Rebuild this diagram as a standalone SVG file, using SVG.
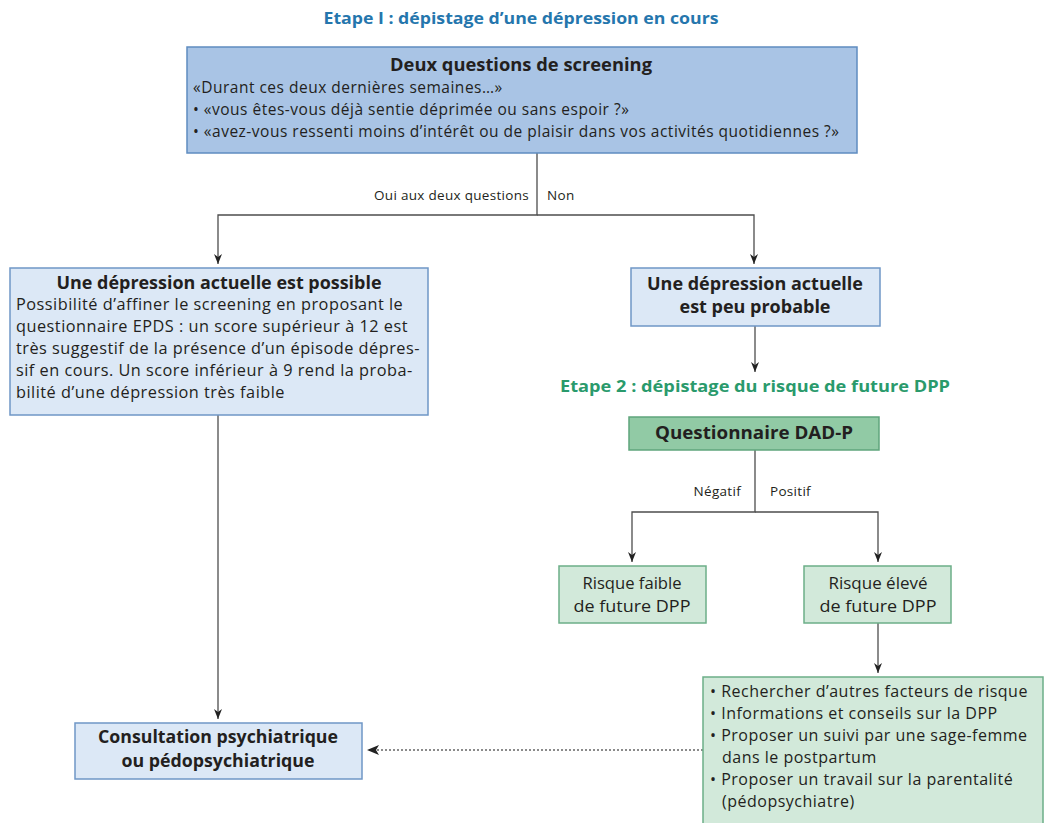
<svg xmlns="http://www.w3.org/2000/svg" width="1046" height="823" viewBox="0 0 1046 823">
<defs>
<style>
text{font-family:"Open Sans",Lato,"Liberation Sans",sans-serif;fill:#231f20}
.h{font-size:17px;font-weight:bold}
.b{font-size:15.5px;letter-spacing:0.5px}
.bl{font-size:16.3px;letter-spacing:0.5px}
.bu{font-size:16px;letter-spacing:0.5px}
.r{font-size:16px}
.l{font-size:13.5px;letter-spacing:0.3px}
.t1{font-size:15.5px;font-weight:bold;fill:#2576ad}
.t2{font-size:15.5px;font-weight:bold;fill:#2a9a6c}
.blue{fill:#a9c4e5;stroke:#5f8cc0;stroke-width:1.5}
.lblue{fill:#dce8f6;stroke:#6f97c6;stroke-width:1.5}
.green{fill:#91caa5;stroke:#5fa57c;stroke-width:1.5}
.lgreen{fill:#d2e9da;stroke:#6cae88;stroke-width:1.5}
.c{fill:none;stroke:#4d4d4d;stroke-width:1.3}
.d{fill:none;stroke:#666;stroke-width:1.3;stroke-dasharray:2 2}
</style>
<marker id="ah" markerWidth="10" markerHeight="16" refX="10" refY="4" orient="auto" markerUnits="userSpaceOnUse" viewBox="0 0 10 8">
<path d="M0,0 L10,4 L0,8 L3,4 Z" fill="#222"/>
</marker>
<marker id="ah2" markerWidth="12" markerHeight="10" refX="12" refY="5" orient="auto" markerUnits="userSpaceOnUse" viewBox="0 0 12 10">
<path d="M0,0 L12,5 L0,10 L3,5 Z" fill="#222"/>
</marker>
</defs>
<rect width="1046" height="823" fill="#fff"/>

<text class="t1" x="521" y="24" text-anchor="middle" textLength="395" lengthAdjust="spacingAndGlyphs">Etape I : dépistage d’une dépression en cours</text>
<text class="t2" x="755" y="392" text-anchor="middle" textLength="390" lengthAdjust="spacingAndGlyphs">Etape 2 : dépistage du risque de future DPP</text>

<g id="connectors">
<path class="c" d="M537,153 V215 H218 V264" marker-end="url(#ah)"/>
<path class="c" d="M537,215 H754 V264" marker-end="url(#ah)"/>
<path class="c" d="M755,326 V372" marker-end="url(#ah)"/>
<path class="c" d="M755,450 V512 H632 V562" marker-end="url(#ah)"/>
<path class="c" d="M755,512 H878 V562" marker-end="url(#ah)"/>
<path class="c" d="M878,623 V673" marker-end="url(#ah)"/>
<path class="c" d="M218,415 V719" marker-end="url(#ah)"/>
<path class="d" d="M703,750 H367" marker-end="url(#ah2)"/>
<text class="l" x="529" y="200" text-anchor="end">Oui aux deux questions</text>
<text class="l" x="547" y="200">Non</text>
<text class="l" x="741" y="496" text-anchor="end">Négatif</text>
<text class="l" x="770" y="496">Positif</text>
</g>

<g id="screening">
<rect class="blue" x="187" y="47" width="670" height="106"/>
<text class="h" x="521" y="71" text-anchor="middle" textLength="262" lengthAdjust="spacingAndGlyphs">Deux questions de screening</text>
<text class="b" x="193" y="93">«Durant ces deux dernières semaines…»</text>
<text class="b" x="193" y="115">• «vous êtes-vous déjà sentie déprimée ou sans espoir ?»</text>
<text class="b" x="193" y="137">• «avez-vous ressenti moins d’intérêt ou de plaisir dans vos activités quotidiennes ?»</text>
</g>

<g id="possible">
<rect class="lblue" x="10" y="268" width="418" height="147"/>
<text class="h" x="219" y="289" text-anchor="middle" textLength="325" lengthAdjust="spacingAndGlyphs">Une dépression actuelle est possible</text>
<text class="bl" x="16" y="310">Possibilité d’affiner le screening en proposant le</text>
<text class="bl" x="16" y="332">questionnaire EPDS : un score supérieur à 12 est</text>
<text class="bl" x="16" y="354">très suggestif de la présence d’un épisode dépres-</text>
<text class="bl" x="16" y="376">sif en cours. Un score inférieur à 9 rend la proba-</text>
<text class="bl" x="16" y="398">bilité d’une dépression très faible</text>
</g>

<g id="peu-probable">
<rect class="lblue" x="631" y="268" width="249" height="58"/>
<text class="h" x="755" y="290" text-anchor="middle" textLength="216" lengthAdjust="spacingAndGlyphs">Une dépression actuelle</text>
<text class="h" x="755" y="313" text-anchor="middle" textLength="151" lengthAdjust="spacingAndGlyphs">est peu probable</text>
</g>

<g id="dadp">
<rect class="green" x="629" y="417" width="250" height="33"/>
<text class="h" x="754" y="439" text-anchor="middle" textLength="198" lengthAdjust="spacingAndGlyphs">Questionnaire DAD-P</text>
</g>

<g id="faible">
<rect class="lgreen" x="559" y="566" width="147" height="57"/>
<text class="r" x="632" y="589" text-anchor="middle" textLength="99" lengthAdjust="spacingAndGlyphs">Risque faible</text>
<text class="r" x="632" y="612" text-anchor="middle" textLength="117" lengthAdjust="spacingAndGlyphs">de future DPP</text>
</g>

<g id="eleve">
<rect class="lgreen" x="804" y="566" width="147" height="57"/>
<text class="r" x="878" y="589" text-anchor="middle" textLength="99" lengthAdjust="spacingAndGlyphs">Risque élevé</text>
<text class="r" x="878" y="612" text-anchor="middle" textLength="117" lengthAdjust="spacingAndGlyphs">de future DPP</text>
</g>

<g id="actions">
<rect class="lgreen" x="703" y="677" width="340" height="150"/>
<text class="bu" x="710" y="697">• Rechercher d’autres facteurs de risque</text>
<text class="bu" x="710" y="719">• Informations et conseils sur la DPP</text>
<text class="bu" x="710" y="741">• Proposer un suivi par une sage-femme</text>
<text class="bu" x="722" y="763">dans le postpartum</text>
<text class="bu" x="710" y="785">• Proposer un travail sur la parentalité</text>
<text class="bu" x="722" y="807">(pédopsychiatre)</text>
</g>

<g id="consultation">
<rect class="lblue" x="75" y="723" width="287" height="56"/>
<text class="h" x="218" y="743" text-anchor="middle" textLength="240" lengthAdjust="spacingAndGlyphs">Consultation psychiatrique</text>
<text class="h" x="218" y="767" text-anchor="middle" textLength="193" lengthAdjust="spacingAndGlyphs">ou pédopsychiatrique</text>
</g>
</svg>
